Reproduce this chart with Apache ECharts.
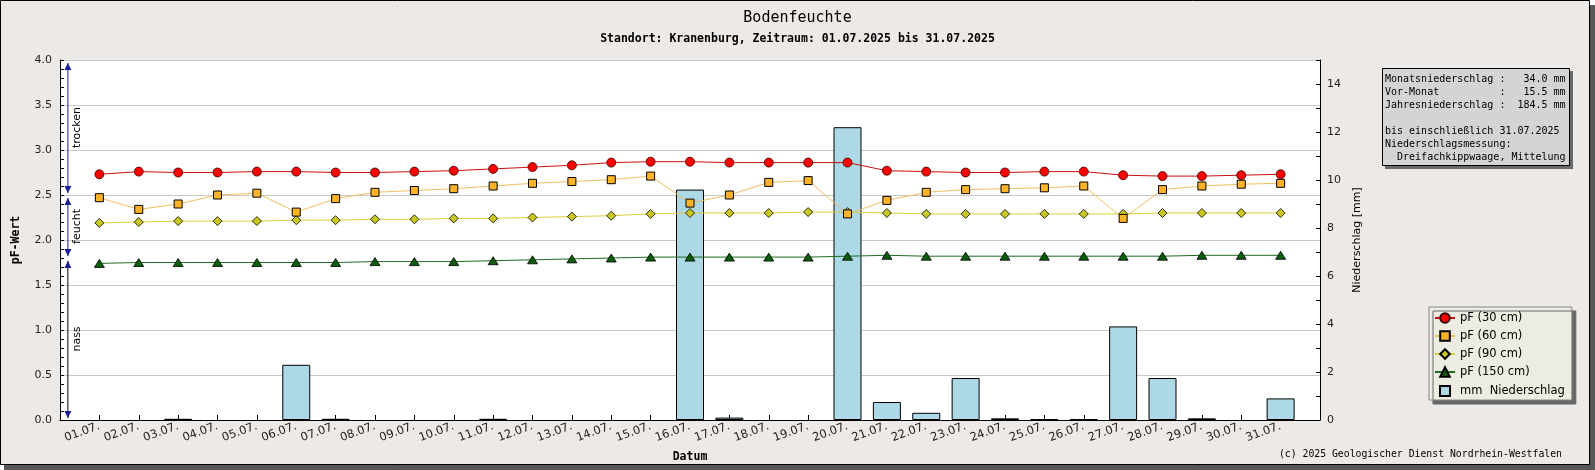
<!DOCTYPE html>
<html>
<head>
<meta charset="utf-8">
<title>Bodenfeuchte</title>
<script src="https://cdn.jsdelivr.net/npm/echarts@6/dist/echarts.min.js"></script>
<style>
	html, body { margin: 0; padding: 0; background: #fff; }
	#chart { width: 1595px; height: 470px; }
</style>
</head>
<body>
<div id="chart"></div>
<script>
	//Tage im Juli 2025
	var tage = [1, 2, 3, 4, 5, 6, 7, 8, 9, 10, 11, 12, 13, 14, 15, 16, 17, 18, 19, 20, 21, 22, 23, 24, 25, 26, 27, 28, 29, 30, 31];
	var tagLabels = ['01.07.', '02.07.', '03.07.', '04.07.', '05.07.', '06.07.', '07.07.', '08.07.', '09.07.', '10.07.',
		'11.07.', '12.07.', '13.07.', '14.07.', '15.07.', '16.07.', '17.07.', '18.07.', '19.07.', '20.07.',
		'21.07.', '22.07.', '23.07.', '24.07.', '25.07.', '26.07.', '27.07.', '28.07.', '29.07.', '30.07.', '31.07.'];

	//pF-Werte je Tiefe
	var pf30 = [2.73, 2.76, 2.75, 2.75, 2.76, 2.76, 2.75, 2.75, 2.76, 2.77, 2.79, 2.81, 2.83, 2.86, 2.87, 2.87,
		2.86, 2.86, 2.86, 2.86, 2.77, 2.76, 2.75, 2.75, 2.76, 2.76, 2.72, 2.71, 2.71, 2.72, 2.73];
	var pf60 = [2.47, 2.34, 2.40, 2.50, 2.52, 2.31, 2.46, 2.53, 2.55, 2.57, 2.60, 2.63, 2.65, 2.67, 2.71, 2.41,
		2.50, 2.64, 2.66, 2.29, 2.44, 2.53, 2.56, 2.57, 2.58, 2.60, 2.24, 2.56, 2.60, 2.62, 2.63];
	var pf90 = [2.19, 2.20, 2.21, 2.21, 2.21, 2.22, 2.22, 2.23, 2.23, 2.24, 2.24, 2.25, 2.26, 2.27, 2.29, 2.30,
		2.30, 2.30, 2.31, 2.31, 2.30, 2.29, 2.29, 2.29, 2.29, 2.29, 2.29, 2.30, 2.30, 2.30, 2.30];
	var pf150 = [1.74, 1.75, 1.75, 1.75, 1.75, 1.75, 1.75, 1.76, 1.76, 1.76, 1.77, 1.78, 1.79, 1.80, 1.81, 1.81,
		1.81, 1.81, 1.81, 1.82, 1.83, 1.82, 1.82, 1.82, 1.82, 1.82, 1.82, 1.82, 1.83, 1.83, 1.83];

	//Niederschlag in mm
	var niederschlag = [0, 0, 0.05, 0, 0, 2.3, 0.05, 0, 0, 0, 0.05, 0, 0, 0, 0, 9.6,
		0.1, 0, 0, 12.2, 0.75, 0.3, 1.75, 0.07, 0.03, 0.03, 3.9, 1.75, 0.07, 0, 0.9];

	//Bereiche trocken / feucht / nass
	var zonenName = ['trocken', 'feucht', 'nass'];
	var zonenOben = [4.0, 2.5, 1.8];
	var zonenUnten = [2.5, 1.8, 0.0];

	//Infobox
	var infoZeilen = [
		'Monatsniederschlag :   34.0 mm',
		'Vor-Monat          :   15.5 mm',
		'Jahresniederschlag :  184.5 mm',
		'',
		'bis einschließlich 31.07.2025',
		'Niederschlagsmessung:',
		'  Dreifachkippwaage, Mittelung'
	];

	var mono = '"DejaVu Sans Mono", monospace';
	var sans = '"DejaVu Sans", sans-serif';

	function paare(werte) {
		return tage.map(function(t, i) {
			return [t, werte[i]];
		});
	}

	//Tage ohne Niederschlag nicht zeichnen
	function balken(werte) {
		return tage.map(function(t, i) {
			return [t, werte[i] > 0 ? werte[i] : null];
		});
	}

	//Pfeile und Beschriftung der Bereiche
	function zonenRender(params, api) {
		var oben = api.coord([0.2, api.value(1)]);
		var unten = api.coord([0.2, api.value(2)]);
		var x = oben[0];
		var y1 = oben[1] + 3;
		var y2 = unten[1] - 2;
		var pfeil = '#1c1c96';
		var linie = params.dataIndex == 2 ? '#000' : pfeil;
		return {
			type: 'group',
			children: [{
				type: 'line',
				shape: { x1: x, y1: y1, x2: x, y2: y2 },
				style: { stroke: linie, lineWidth: 1 }
			}, {
				type: 'polygon',
				shape: { points: [[x, y1], [x - 3.5, y1 + 7], [x + 3.5, y1 + 7]] },
				style: { fill: pfeil }
			}, {
				type: 'polygon',
				shape: { points: [[x, y2], [x - 3.5, y2 - 7], [x + 3.5, y2 - 7]] },
				style: { fill: pfeil }
			}, {
				type: 'text',
				x: x + 9,
				y: (oben[1] + unten[1]) / 2,
				rotation: Math.PI / 2,
				style: {
					text: zonenName[params.dataIndex],
					align: 'center',
					verticalAlign: 'middle',
					fill: '#000',
					fontSize: 11,
					fontFamily: sans
				}
			}]
		};
	}

	var myChart = echarts.init(document.getElementById('chart'));

	var option = {
		animation: false,
		title: {
			left: 'center',
			top: 6,
			itemGap: 7,
			text: 'Bodenfeuchte',
			subtext: 'Standort: Kranenburg, Zeitraum: 01.07.2025 bis 31.07.2025',
			textStyle: { fontFamily: mono, fontSize: 15, fontWeight: 'normal', color: '#000' },
			subtextStyle: { fontFamily: mono, fontSize: 11.5, fontWeight: 'bold', color: '#000' }
		},
		grid: {
			left: 60,
			right: 275,
			top: 60,
			bottom: 50,
			show: true,
			backgroundColor: '#fff',
			borderWidth: 0
		},
		legend: {
			orient: 'vertical',
			left: 1429,
			top: 307,
			padding: [5, 7, 2, 5],
			itemWidth: 20,
			itemHeight: 12,
			itemGap: 6,
			backgroundColor: '#edece2',
			borderColor: '#888',
			borderWidth: 1,
			shadowColor: '#666',
			shadowOffsetX: 4,
			shadowOffsetY: 4,
			shadowBlur: 0,
			selectedMode: false,
			textStyle: { fontFamily: sans, fontSize: 11.5, color: '#000' },
			data: [
				'pF (30 cm)',
				'pF (60 cm)',
				'pF (90 cm)',
				'pF (150 cm)',
				{ name: 'mm  Niederschlag', icon: 'path://M0 0M20 12M5 1L15 1L15 11L5 11Z' }
			]
		},
		xAxis: [{
			type: 'value',
			min: 0,
			max: 32,
			interval: 1,
			name: 'Datum',
			nameLocation: 'middle',
			nameGap: 31,
			nameTextStyle: { fontFamily: mono, fontSize: 11.5, fontWeight: 'bold', color: '#000' },
			axisLine: { show: true, lineStyle: { color: '#000' } },
			axisTick: { show: true, inside: true, length: 5, lineStyle: { color: '#000' } },
			axisLabel: {
				rotate: 20,
				margin: 6,
				fontFamily: sans,
				fontSize: 11.5,
				color: '#222',
				showMinLabel: true,
				showMaxLabel: true,
				formatter: function(v) {
					var i = tage.indexOf(v);
					return i < 0 ? '' : tagLabels[i];
				}
			},
			splitLine: { show: false }
		}],
		yAxis: [{
			type: 'value',
			min: 0,
			max: 4,
			interval: 0.5,
			position: 'left',
			name: 'pF-Wert',
			nameLocation: 'middle',
			nameGap: 38,
			nameRotate: 90,
			nameTextStyle: { fontFamily: mono, fontSize: 11.5, fontWeight: 'bold', color: '#000' },
			axisLine: { show: true, lineStyle: { color: '#000' } },
			axisTick: { show: true, inside: true, length: 4, lineStyle: { color: '#000' } },
			minorTick: { show: true, splitNumber: 5, length: 4, lineStyle: { color: '#000' } },
			axisLabel: {
				margin: 8,
				fontFamily: sans,
				fontSize: 11,
				color: '#222',
				formatter: function(v) {
					return v.toFixed(1);
				}
			},
			splitLine: { show: true, lineStyle: { color: '#c8c8c8', width: 1 } }
		}, {
			type: 'value',
			min: 0,
			max: 15,
			interval: 1,
			position: 'right',
			name: 'Niederschlag [mm]',
			nameLocation: 'middle',
			nameGap: 29,
			nameRotate: 90,
			nameTextStyle: { fontFamily: sans, fontSize: 11, color: '#000' },
			axisLine: { show: true, lineStyle: { color: '#000' } },
			axisTick: { show: true, inside: true, length: 4, lineStyle: { color: '#000' } },
			axisLabel: {
				margin: 7,
				fontFamily: sans,
				fontSize: 11,
				color: '#222',
				formatter: function(v) {
					return v % 2 == 0 ? String(v) : '';
				}
			},
			splitLine: { show: false }
		}],
		series: [{
			name: 'mm  Niederschlag',
			type: 'bar',
			yAxisIndex: 1,
			barWidth: 28,
			z: 1,
			itemStyle: { color: '#add8e6', borderColor: '#000', borderWidth: 1 },
			data: balken(niederschlag)
		}, {
			name: 'zonen',
			type: 'custom',
			yAxisIndex: 0,
			z: 3,
			silent: true,
			renderItem: zonenRender,
			data: zonenName.map(function(n, i) {
				return [i, zonenOben[i], zonenUnten[i]];
			})
		}, {
			name: 'pF (150 cm)',
			type: 'line',
			z: 4,
			symbol: 'triangle',
			symbolSize: [10, 8],
			lineStyle: { color: '#1f6b1f', width: 1 },
			itemStyle: { color: '#0b5d0b', borderColor: '#000', borderWidth: 0.8 },
			data: paare(pf150)
		}, {
			name: 'pF (90 cm)',
			type: 'line',
			z: 5,
			symbol: 'diamond',
			symbolSize: 9,
			lineStyle: { color: '#dccf3c', width: 1 },
			itemStyle: { color: '#c9c820', borderColor: '#000', borderWidth: 0.8 },
			data: paare(pf90)
		}, {
			name: 'pF (60 cm)',
			type: 'line',
			z: 6,
			symbol: 'rect',
			symbolSize: 8,
			lineStyle: { color: '#f0c060', width: 1 },
			itemStyle: { color: '#ffb428', borderColor: '#000', borderWidth: 1 },
			data: paare(pf60)
		}, {
			name: 'pF (30 cm)',
			type: 'line',
			z: 7,
			symbol: 'circle',
			symbolSize: 9,
			lineStyle: { color: '#cc1010', width: 1 },
			itemStyle: { color: '#ff0000', borderColor: '#300', borderWidth: 0.8 },
			data: paare(pf30)
		}],
		graphic: [{
			type: 'rect',
			z: -20,
			shape: { x: 4, y: 5, width: 1591, height: 465 },
			style: { fill: '#575757' }
		}, {
			type: 'rect',
			z: -19,
			shape: { x: 0.5, y: 0.5, width: 1589, height: 464 },
			style: { fill: '#ece9e7', stroke: '#000', lineWidth: 1 }
		}, {
			type: 'rect',
			z: 10,
			shape: { x: 1385, y: 71, width: 188, height: 98 },
			style: { fill: '#6a6a6a' }
		}, {
			type: 'rect',
			z: 11,
			shape: { x: 1382.5, y: 68.5, width: 187, height: 97 },
			style: { fill: '#d4d4d4', stroke: '#000', lineWidth: 1 }
		}, {
			type: 'text',
			z: 12,
			x: 1385,
			y: 73,
			style: {
				text: infoZeilen.join('\n'),
				fontFamily: mono,
				fontSize: 10,
				lineHeight: 13,
				fill: '#000'
			}
		}, {
			type: 'text',
			z: 12,
			x: 1562,
			y: 449,
			style: {
				text: '(c) 2025 Geologischer Dienst Nordrhein-Westfalen',
				align: 'right',
				fontFamily: mono,
				fontSize: 9.8,
				fill: '#000'
			}
		}]
	};

	// 使用刚指定的配置项和数据显示图表。
	myChart.setOption(option);
</script>
</body>
</html>
